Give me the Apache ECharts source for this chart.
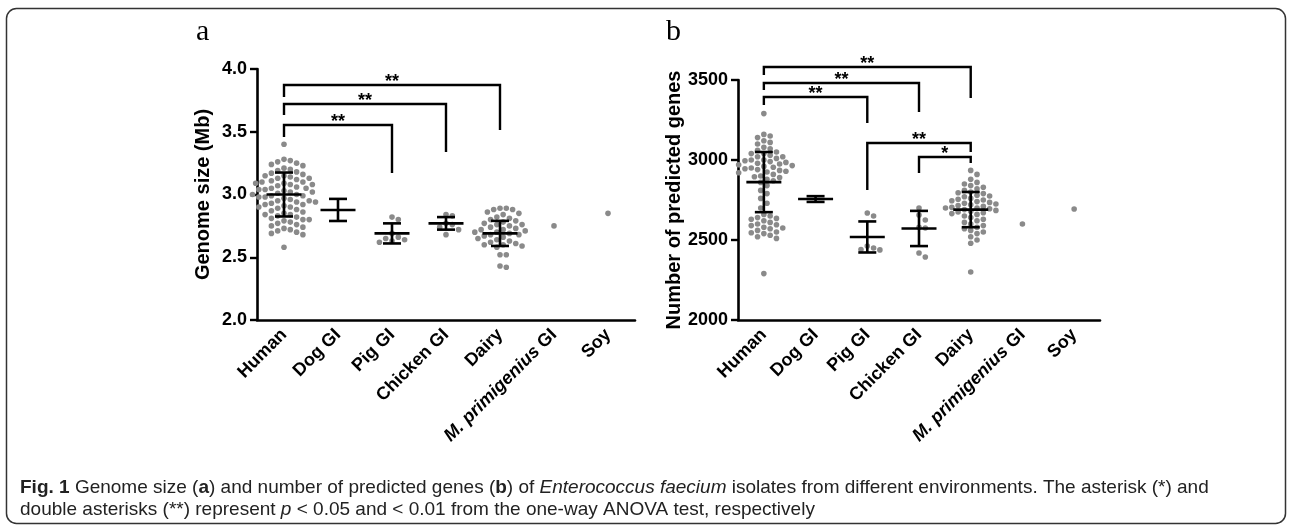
<!DOCTYPE html>
<html>
<head>
<meta charset="utf-8">
<script src="https://cdn.jsdelivr.net/npm/echarts@6/dist/echarts.min.js"></script>
<style>
  html, body { margin: 0; background: #fff; }
  #main { width: 1290px; height: 527px; }
</style>
</head>
<body>
<div id="main"></div>
<script>
const categories = ['Human', 'Dog GI', 'Pig GI', 'Chicken GI', 'Dairy', 'M. primigenius GI', 'Soy'];

// (a) genome size, Mb, one list per source
const genomeHuman = [3.40,
  3.28, 3.27, 3.26, 3.25, 3.24, 3.23,
  3.21, 3.20, 3.19, 3.18, 3.17, 3.16, 3.15, 3.15,
  3.14, 3.13, 3.13, 3.12, 3.11, 3.10, 3.10, 3.09,
  3.09, 3.08, 3.08, 3.07, 3.06, 3.05, 3.05, 3.04,
  3.04, 3.03, 3.02, 3.02, 3.01, 3.00, 3.00, 2.99,
  2.99, 2.98, 2.98, 2.97, 2.96, 2.95, 2.95, 2.94,
  2.94, 2.93, 2.92, 2.92, 2.91, 2.90, 2.90,
  2.89, 2.88, 2.87, 2.86, 2.85, 2.84, 2.84,
  2.83, 2.82, 2.81, 2.80, 2.80, 2.79, 2.78,
  2.77, 2.76, 2.75, 2.74, 2.73, 2.72, 2.71,
  2.70, 2.69, 2.68, 2.58];
const genomePig = [2.82, 2.80, 2.69, 2.66, 2.63, 2.64, 2.65, 2.62];
const genomeChicken = [2.84, 2.83, 2.77, 2.76, 2.74, 2.72, 2.68];
const genomeDairy = [2.89, 2.89, 2.88, 2.88, 2.86, 2.85, 2.84, 2.82, 2.81, 2.80,
  2.79, 2.78, 2.77, 2.76, 2.76, 2.75, 2.74, 2.73, 2.72, 2.72, 2.71, 2.70, 2.70,
  2.69, 2.68, 2.68, 2.67, 2.66, 2.65, 2.64, 2.63, 2.62, 2.61, 2.60, 2.60, 2.59,
  2.58, 2.52, 2.52, 2.43, 2.42];
const genomeMammoth = [2.75];
const genomeSoy = [2.85];
const genomeMean = [3.00, 2.877, 2.69, 2.77, 2.69, null, null];
const genomeSD = [0.175, 0.088, 0.08, 0.05, 0.10, null, null];
const genomeTicks = [2.0, 2.5, 3.0, 3.5, 4.0];
// [from, to, bar level, left foot, right foot]
const genomeSig = [[0, 2, 3.554, 3.458, 3.171], [0, 3, 3.721, 3.633, 3.339], [0, 4, 3.873, 3.777, 3.514]];
const genomeSigText = ['**', '**', '**'];

// (b) number of predicted genes
const genesHuman = [3290,
  3160, 3150, 3140, 3120, 3110, 3100,
  3080, 3070, 3060, 3050, 3040, 3040, 3030, 3020, 3020, 3010, 3000, 3000,
  2995, 2990, 2985, 2980, 2975, 2970, 2965, 2960, 2955, 2950, 2945, 2940,
  2935, 2930, 2925, 2920, 2910, 2900, 2895, 2890, 2880, 2870, 2860,
  2840, 2810, 2790, 2760, 2730, 2700,
  2660, 2650, 2640, 2635, 2630, 2620, 2610, 2600, 2595, 2590, 2580, 2575,
  2570, 2560, 2550, 2545, 2540, 2530, 2520, 2510, 2290];
const genesDog = [];
const genesPig = [2669, 2650, 2462, 2450, 2440, 2438];
const genesChicken = [2700, 2656, 2625, 2575, 2580, 2419, 2394];
const genesDairy = [2935, 2910, 2880, 2860, 2850, 2840, 2830, 2820, 2810, 2800,
  2795, 2790, 2780, 2775, 2770, 2760, 2755, 2750, 2745, 2740, 2735, 2730, 2725,
  2720, 2715, 2710, 2705, 2700, 2700, 2695, 2690, 2685, 2680, 2675, 2670, 2665,
  2660, 2650, 2640, 2630, 2620, 2610, 2600, 2590, 2580, 2570, 2560, 2550, 2540,
  2520, 2500, 2480, 2300];
const genesMammoth = [2600];
const genesSoy = [2694];
const genesMean = [2862, 2756, 2519, 2572, 2690, null, null];
const genesSD = [188, 18, 97, 110, 110, null, null];
const genesTicks = [2000, 2500, 3000, 3500];
const genesSig = [[0, 2, 3394, 3344, 3231], [0, 3, 3481, 3438, 3300], [0, 4, 3581, 3531, 3387],
  [2, 4, 3106, 2813, 3050], [3, 4, 3019, 2919, 2981]];
const genesSigText = ['**', '**', '**', '**', '*'];

const genomeSize = [genomeHuman, [], genomePig, genomeChicken, genomeDairy, genomeMammoth, genomeSoy];
const genes = [genesHuman, genesDog, genesPig, genesChicken, genesDairy, genesMammoth, genesSoy];

const FONT = '"Liberation Sans", Arial, sans-serif';
const DOT = '#8a8a8a';

function flat(groups) {
  let pts = [];
  groups.forEach((vals, i) => vals.forEach(v => pts.push([i, v])));
  return pts;
}

// simple beeswarm in pixel space
function swarm(points, api, d) {
  const pix = points.map(p => api.coord(p));
  const out = [];
  const byCat = {};
  points.forEach((p, k) => { (byCat[p[0]] = byCat[p[0]] || []).push(k); });
  Object.keys(byCat).forEach(c => {
    const ks = byCat[c].sort((a, b) => pix[a][1] - pix[b][1]);
    const placed = [];
    ks.forEach(k => {
      const y = pix[k][1];
      let dx = 0;
      for (let n = 0; n < 60; n++) {
        dx = (n % 2 ? 1 : -1) * Math.ceil(n / 2) * d * 0.5;
        let ok = placed.every(q => (q[0] - dx) * (q[0] - dx) + (q[1] - y) * (q[1] - y) >= d * d);
        if (ok) break;
      }
      placed.push([dx, y]);
      out[k] = [pix[k][0] + dx, y];
    });
  });
  return out;
}

function dotSeries(groups, idx) {
  const pts = flat(groups);
  let pos = null;
  return {
    type: 'custom', xAxisIndex: idx, yAxisIndex: idx, z: 2, data: pts,
    renderItem: (params, api) => {
      if (!pos) pos = swarm(pts, api, 6.3);
      const p = pos[params.dataIndex];
      return { type: 'circle', shape: { cx: p[0], cy: p[1], r: 2.8 }, style: { fill: DOT } };
    }
  };
}

function barSeries(mean, sd, idx) {
  const data = [];
  mean.forEach((m, i) => { if (m != null) data.push([i, m, sd[i]]); });
  return {
    type: 'custom', xAxisIndex: idx, yAxisIndex: idx, z: 5, data: data,
    renderItem: (params, api) => {
      const i = api.value(0), m = api.value(1), s = api.value(2);
      const c = api.coord([i, m]), hi = api.coord([i, m + s]), lo = api.coord([i, m - s]);
      const st = { stroke: '#000', lineWidth: 2.6 };
      return {
        type: 'group', children: [
          { type: 'line', shape: { x1: c[0] - 17.5, y1: c[1], x2: c[0] + 17.5, y2: c[1] }, style: st },
          { type: 'line', shape: { x1: c[0], y1: hi[1], x2: c[0], y2: lo[1] }, style: st },
          { type: 'line', shape: { x1: c[0] - 9, y1: hi[1], x2: c[0] + 9, y2: hi[1] }, style: st },
          { type: 'line', shape: { x1: c[0] - 9, y1: lo[1], x2: c[0] + 9, y2: lo[1] }, style: st }
        ]
      };
    }
  };
}

function sigSeries(sig, labels, idx) {
  return {
    type: 'custom', xAxisIndex: idx, yAxisIndex: idx, z: 6, clip: false, data: sig,
    renderItem: (params, api) => {
      const b = sig[params.dataIndex];
      const l0 = api.coord([b[0], b[3]]), t0 = api.coord([b[0], b[2]]);
      const t1 = api.coord([b[1], b[2]]), r1 = api.coord([b[1], b[4]]);
      return {
        type: 'group', children: [
          { type: 'polyline', shape: { points: [l0, t0, t1, r1] }, style: { fill: null, stroke: '#000', lineWidth: 2.4 } },
          { type: 'text', x: (t0[0] + t1[0]) / 2, y: t0[1] - 3,
            style: { text: labels[params.dataIndex], font: 'bold 18px ' + FONT, fill: '#000', align: 'center', verticalAlign: 'middle' } }
        ]
      };
    }
  };
}

function xAxis(idx) {
  return {
    type: 'category', gridIndex: idx, data: categories, boundaryGap: true,
    axisLine: { lineStyle: { color: '#000', width: 2.6 } },
    axisTick: { alignWithLabel: true, length: 8, lineStyle: { color: '#000', width: 2.4 } },
    axisLabel: {
      rotate: 45, margin: 12, interval: 0, color: '#000', fontWeight: 'bold', fontSize: 18, fontFamily: FONT,
      formatter: v => v.replace(/^(M\. \w+)/, '{i|$1}'),
      rich: { i: { fontStyle: 'italic', fontWeight: 'bold', fontSize: 18, fontFamily: FONT, color: '#000' } }
    },
    splitLine: { show: false }
  };
}

function yAxis(idx, ticks, name, gap, digits) {
  return {
    type: 'value', gridIndex: idx, min: ticks[0], max: ticks[ticks.length - 1], interval: ticks[1] - ticks[0],
    name: name, nameLocation: 'middle', nameGap: gap,
    nameTextStyle: { color: '#000', fontWeight: 'bold', fontSize: 20, fontFamily: FONT },
    axisLine: { show: true, lineStyle: { color: '#000', width: 2.6 } },
    axisTick: { show: true, length: 7, lineStyle: { color: '#000', width: 2.4 } },
    axisLabel: { margin: 10, color: '#000', fontWeight: 'bold', fontSize: 18, fontFamily: FONT, formatter: v => v.toFixed(digits) },
    splitLine: { show: false }
  };
}

const cap = { fontFamily: '"Liberation Sans Narrow", "Liberation Sans", sans-serif', fontSize: 19 };

const chart = echarts.init(document.getElementById('main'), null, { renderer: 'canvas' });
chart.setOption({
  animation: false,
  backgroundColor: '#fff',
  grid: [
    { left: 257, top: 69, width: 378, height: 251, containLabel: false, outerBoundsMode: 'none' },
    { left: 738, top: 80, width: 362, height: 240, containLabel: false, outerBoundsMode: 'none' }
  ],
  xAxis: [xAxis(0), xAxis(1)],
  yAxis: [
    yAxis(0, genomeTicks, 'Genome size (Mb)', 44, 1),
    yAxis(1, genesTicks, 'Number of predicted genes', 51, 0)
  ],
  series: [
    dotSeries(genomeSize, 0), barSeries(genomeMean, genomeSD, 0), sigSeries(genomeSig, genomeSigText, 0),
    dotSeries(genes, 1), barSeries(genesMean, genesSD, 1), sigSeries(genesSig, genesSigText, 1)
  ],
  graphic: [
    { type: 'rect', shape: { x: 6.5, y: 8.5, width: 1279, height: 515, r: 10 }, style: { fill: null, stroke: '#333', lineWidth: 1.5 } },
    { type: 'text', x: 196, y: 47, style: { text: 'a', font: '30px "Liberation Serif", serif', fill: '#000', verticalAlign: 'bottom' } },
    { type: 'text', x: 666, y: 47, style: { text: 'b', font: '30px "Liberation Serif", serif', fill: '#000', verticalAlign: 'bottom' } },
    { type: 'text', x: 20, y: 488, style: {
      text: '{b|Fig. 1} Genome size ({b|a}) and number of predicted genes ({b|b}) of {i|Enterococcus faecium} isolates from different environments. The asterisk (*) and',
      fill: '#222', verticalAlign: 'middle', fontFamily: cap.fontFamily, fontSize: cap.fontSize,
      rich: {
        b: { fontFamily: cap.fontFamily, fontSize: cap.fontSize, fontWeight: 'bold', fill: '#222' },
        i: { fontFamily: cap.fontFamily, fontSize: cap.fontSize, fontStyle: 'italic', fill: '#222' }
      } } },
    { type: 'text', x: 20, y: 510, style: {
      text: 'double asterisks (**) represent {i|p} < 0.05 and < 0.01 from the one-way ANOVA test, respectively',
      fill: '#222', verticalAlign: 'middle', fontFamily: cap.fontFamily, fontSize: cap.fontSize,
      rich: { i: { fontFamily: cap.fontFamily, fontSize: cap.fontSize, fontStyle: 'italic', fill: '#222' } } } }
  ]
});
window.onresize = () => { chart.resize(); };
</script>
</body>
</html>
